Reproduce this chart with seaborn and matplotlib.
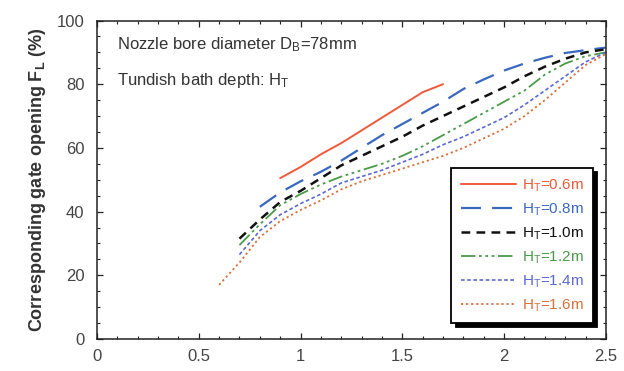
import numpy as np
import pandas as pd
import matplotlib
matplotlib.use("Agg")
import matplotlib.pyplot as plt
from matplotlib.ticker import MultipleLocator, FuncFormatter
import seaborn as sns

sns.set_theme(style="ticks")
plt.rcParams['font.family'] = ['Liberation Sans', 'DejaVu Sans']
plt.rcParams['mathtext.fontset'] = 'custom'
plt.rcParams['mathtext.rm'] = 'Liberation Sans'
plt.rcParams['mathtext.it'] = 'Liberation Sans'
plt.rcParams['mathtext.bf'] = 'Liberation Sans:bold'

labels = ["H$_\\mathregular{T}$=0.6m", "H$_\\mathregular{T}$=0.8m", "H$_\\mathregular{T}$=1.0m",
          "H$_\\mathregular{T}$=1.2m", "H$_\\mathregular{T}$=1.4m", "H$_\\mathregular{T}$=1.6m"]

x_06 = [0.9, 1.0, 1.1, 1.2, 1.3, 1.4, 1.5, 1.6, 1.7]
y_06 = [50.5, 54, 58, 61.5, 65.5, 69.5, 73.5, 77.5, 80]

x_08 = [0.8, 0.9, 1.0, 1.1, 1.2, 1.3, 1.4, 1.5, 1.6, 1.7, 1.8, 1.9, 2.0, 2.1, 2.2, 2.3, 2.4, 2.5]
y_08 = [41.5, 46, 49.5, 52.5, 56, 60, 64, 67.5, 71, 74.5, 78.5, 81.5, 84.3, 86.5, 88.3, 89.8, 90.7, 91.5]

x_10 = [0.7, 0.8, 0.9, 1.0, 1.1, 1.2, 1.3, 1.4, 1.5, 1.6, 1.7, 1.8, 1.9, 2.0, 2.1, 2.2, 2.3, 2.4, 2.5]
y_10 = [31.5, 37.5, 43, 46.5, 50.5, 54.5, 57.5, 60.5, 63.5, 67, 70, 73, 76, 79, 82.5, 85.5, 88, 90, 91]

x_12 = [0.7, 0.8, 0.9, 1.0, 1.1, 1.2, 1.3, 1.4, 1.5, 1.6, 1.7, 1.8, 1.9, 2.0, 2.1, 2.2, 2.3, 2.4, 2.5]
y_12 = [29.5, 36, 42, 45.5, 48.5, 51, 53, 55, 57.5, 60.5, 64, 67.5, 71, 74.5, 78, 83, 86.5, 88.8, 90]

x_14 = [0.7, 0.8, 0.9, 1.0, 1.1, 1.2, 1.3, 1.4, 1.5, 1.6, 1.7, 1.8, 1.9, 2.0, 2.1, 2.2, 2.3, 2.4, 2.5]
y_14 = [26.5, 34, 39, 42.5, 45.5, 49, 51, 53, 55.5, 58, 61, 63.5, 66.5, 69.5, 73.5, 78, 82.5, 87, 90]

x_16 = [0.6, 0.7, 0.8, 0.9, 1.0, 1.1, 1.2, 1.3, 1.4, 1.5, 1.6, 1.7, 1.8, 1.9, 2.0, 2.1, 2.2, 2.3, 2.4, 2.5]
y_16 = [17, 24, 32, 37, 40.5, 43.5, 47, 49.5, 51.5, 53.5, 55.5, 57.5, 60, 63, 66, 70, 75, 80.5, 86, 89.5]

xs = [x_06, x_08, x_10, x_12, x_14, x_16]
ys = [y_06, y_08, y_10, y_12, y_14, y_16]
colors = ["#ee5a3a", "#3a68c0", "#111111", "#4a9a4a", "#5a6ad0", "#d8703a"]
dashes = [None, (9, 5), (3.5, 2.5), (8, 2, 1.5, 2, 1.5, 2, 1.5, 2), (2.2, 1.5), (1.2, 1.6)]
widths = [1.4, 1.6, 1.8, 1.3, 1.2, 1.3]

fig = plt.figure(figsize=(6.24, 3.71), dpi=100)
ax = fig.add_axes([0.1554, 0.0863, 0.8156, 0.8584])

for xv, yv, c, d, w, lab in zip(xs, ys, colors, dashes, widths, labels):
    sns.lineplot(x=xv, y=yv, ax=ax, color=c, linewidth=w, label=lab)
    ln = ax.lines[-1]
    if d is not None:
        ln.set_dashes(d)

ax.set_xlim(0, 2.5)
ax.set_ylim(0, 100)
ax.xaxis.set_major_locator(MultipleLocator(0.5))
ax.xaxis.set_minor_locator(MultipleLocator(0.1))
ax.yaxis.set_major_locator(MultipleLocator(20))
ax.yaxis.set_minor_locator(MultipleLocator(5))
ax.xaxis.set_major_formatter(FuncFormatter(lambda v, p: f"{v:g}"))
ax.tick_params(which='both', direction='in', top=True, right=True, colors='#222222',
               labelcolor='#444444', labelsize=12)
ax.tick_params(which='major', length=4, width=0.9)
ax.tick_params(which='minor', length=2.5, width=0.8)
ax.tick_params(axis='x', pad=7)
ax.tick_params(axis='y', pad=9)
for s in ax.spines.values():
    s.set_linewidth(1.1)
    s.set_color('#222222')

ax.set_ylabel("Corresponding gate opening F$_\\mathregular{L}$ (%)", fontsize=13,
              fontweight='bold', color='#333333', labelpad=6)

ax.text(0.04, 0.923, "Nozzle bore diameter D$_\\mathregular{B}$=78mm", transform=ax.transAxes,
        fontsize=12, color='#333333', va='center')
ax.text(0.04, 0.813, "Tundish bath depth: H$_\\mathregular{T}$", transform=ax.transAxes,
        fontsize=12, color='#333333', va='center')

leg = ax.legend(loc='lower right', bbox_to_anchor=(0.974, 0.05), fontsize=11,
                labelcolor='linecolor', frameon=True, fancybox=False,
                handlelength=3.6, handletextpad=0.4, labelspacing=0.5,
                borderpad=0.6, borderaxespad=0,
                shadow={'ox': 3, 'oy': -3, 'facecolor': 'black', 'edgecolor': 'black', 'alpha': 1})
leg.get_frame().set_edgecolor('black')
leg.get_frame().set_linewidth(1.3)
leg.get_frame().set_alpha(1)

fig.savefig("out.png", dpi=100)
